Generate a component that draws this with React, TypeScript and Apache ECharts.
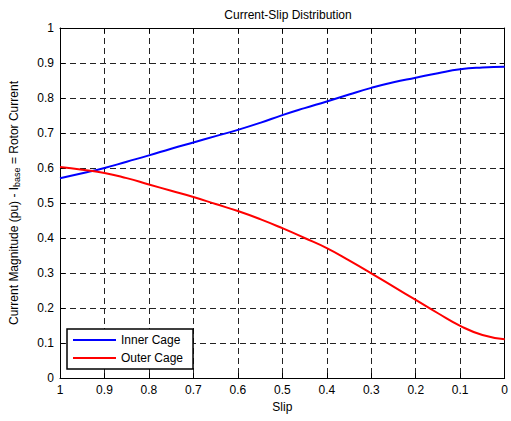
import React, { useEffect, useRef } from "react";
import * as echarts from "echarts";

const slip = [1, 0.95, 0.9, 0.85, 0.8, 0.75, 0.7, 0.65, 0.6, 0.55, 0.5, 0.45, 0.4, 0.35, 0.3, 0.25, 0.2, 0.15, 0.1, 0.05, 0];
const innerCage = [0.571, 0.585, 0.6, 0.618, 0.636, 0.655, 0.673, 0.691, 0.709, 0.729, 0.751, 0.771, 0.79, 0.81, 0.829, 0.845, 0.858, 0.871, 0.882, 0.887, 0.889];
const outerCage = [0.603, 0.595, 0.586, 0.571, 0.553, 0.535, 0.517, 0.497, 0.477, 0.454, 0.428, 0.4, 0.371, 0.336, 0.299, 0.261, 0.223, 0.185, 0.149, 0.123, 0.111];
const seriesNames = ["Inner Cage", "Outer Cage"];

const FONT = "Liberation Sans, Arial, sans-serif";
const fmt = (v: number) => String(+v.toFixed(1));

export default function App() {
  const ref = useRef<HTMLDivElement>(null);
  useEffect(() => {
    const chart = echarts.init(ref.current!, null, { renderer: "svg" });
    const tickCommon = { show: true, inside: true, length: 5, lineStyle: { color: "#000", width: 1 } };
    const lineCommon = { show: true, onZero: false, lineStyle: { color: "#000", width: 1 } };
    const splitCommon = { show: true, lineStyle: { color: "#222", width: 1, type: [6, 4] as any } };
    chart.setOption({
      animation: false,
      backgroundColor: "#fff",
      title: {
        text: "Current-Slip Distribution",
        left: 283,
        textAlign: "center",
        top: 4,
        textStyle: { fontFamily: FONT, fontSize: 12, fontWeight: "normal", color: "#000" },
      },
      grid: { left: 60, right: 5, top: 28, bottom: 43, containLabel: false },
      legend: {
        data: seriesNames,
        orient: "vertical",
        left: 67,
        top: 329,
        width: 128,
        padding: [5, 10, 5, 6],
        itemWidth: 43,
        itemHeight: 2,
        itemGap: 6,
        icon: "rect",
        borderColor: "#000",
        borderWidth: 1.5,
        backgroundColor: "#fff",
        textStyle: { fontFamily: FONT, fontSize: 12, color: "#000" },
      },
      xAxis: [
        {
          type: "value",
          min: 0,
          max: 1,
          interval: 0.1,
          inverse: true,
          name: "Slip",
          nameLocation: "middle",
          nameGap: 22,
          nameTextStyle: { fontFamily: FONT, fontSize: 12, color: "#000" },
          axisLine: lineCommon,
          axisTick: tickCommon,
          axisLabel: { formatter: fmt, fontFamily: FONT, fontSize: 12, color: "#000", margin: 6 },
          splitLine: splitCommon,
        },
        {
          type: "value",
          position: "top",
          min: 0,
          max: 1,
          interval: 0.1,
          inverse: true,
          axisLine: lineCommon,
          axisTick: tickCommon,
          axisLabel: { show: false },
          splitLine: { show: false },
        },
      ],
      yAxis: [
        {
          type: "value",
          min: 0,
          max: 1,
          interval: 0.1,
          name: "Current Magnitude (pu) - I{sub|base} = Rotor Current",
          nameLocation: "middle",
          nameGap: 40,
          nameTextStyle: {
            fontFamily: FONT,
            fontSize: 12,
            color: "#000",
            rich: {
              sub: { fontFamily: FONT, fontSize: 9, color: "#000", padding: [0, 0, -6, 0] },
            },
          },
          axisLine: lineCommon,
          axisTick: tickCommon,
          axisLabel: { formatter: fmt, fontFamily: FONT, fontSize: 12, color: "#000", margin: 6 },
          splitLine: splitCommon,
        },
        {
          type: "value",
          position: "right",
          min: 0,
          max: 1,
          interval: 0.1,
          axisLine: lineCommon,
          axisTick: tickCommon,
          axisLabel: { show: false },
          splitLine: { show: false },
        },
      ],
      series: [
        {
          name: seriesNames[0],
          type: "line",
          smooth: true,
          showSymbol: false,
          symbol: "none",
          color: "#0000ff",
          lineStyle: { width: 2, color: "#0000ff" },
          data: slip.map((s, i) => [s, innerCage[i]]),
          z: 5,
        },
        {
          name: seriesNames[1],
          type: "line",
          smooth: true,
          showSymbol: false,
          symbol: "none",
          color: "#ff0000",
          lineStyle: { width: 2, color: "#ff0000" },
          data: slip.map((s, i) => [s, outerCage[i]]),
          z: 5,
        },
      ],
    });
    return () => chart.dispose();
  }, []);
  return <div ref={ref} style={{ width: 511, height: 421, position: "absolute", left: 0, top: 0 }} />;
}
